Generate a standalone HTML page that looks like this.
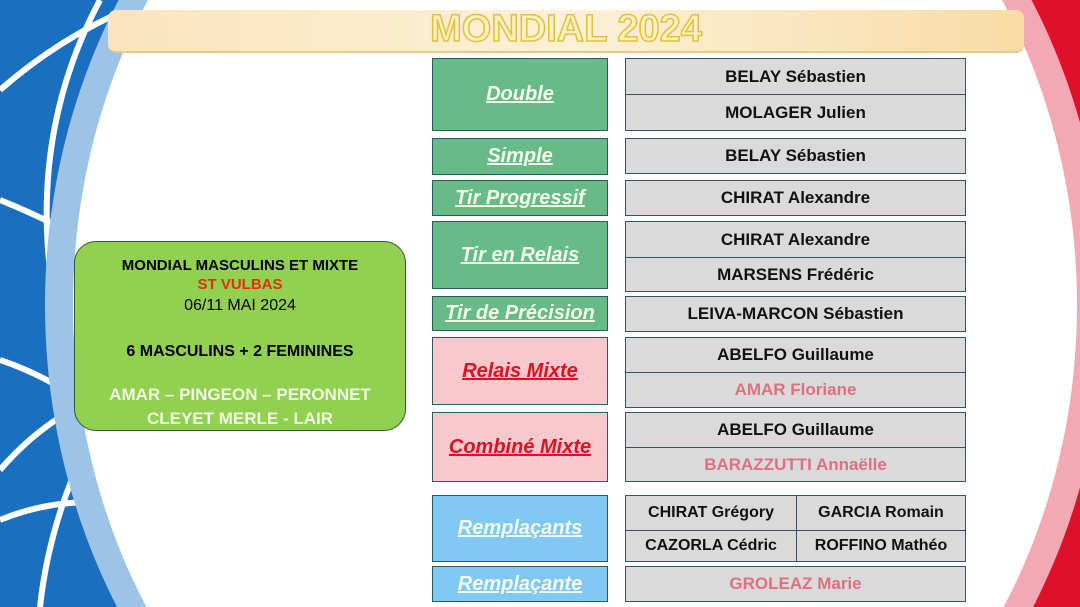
<!DOCTYPE html>
<html style="overflow:hidden"><head><meta charset="utf-8"><style>
*{margin:0;padding:0;box-sizing:border-box}
html,body{width:1080px;height:607px;overflow:hidden}
body{position:relative;background:#fff;font-family:"Liberation Sans",sans-serif}
.a{position:absolute}
.c{position:absolute;display:flex;align-items:center;justify-content:center;border:1.5px solid #2d5a5a;font-weight:bold;font-style:italic;text-decoration:underline;font-size:20px;color:#f4fbe8}
.g{background:#66bb88}
.p{background:#f9c8cf;color:#e0101e}
.b{background:#7fc9f4}
.n{position:absolute;display:flex;align-items:center;justify-content:center;background:#dadada;border:1.5px solid #2f5566;font-weight:bold;font-size:17px;color:#111}
.f{color:#e07080}
</style></head><body>
<svg class="a" style="left:0;top:0;display:block" width="1080" height="607">
<clipPath id="r"><rect x="570" y="0" width="510" height="607"/></clipPath>
<rect x="0" y="0" width="570" height="607" fill="#1a6fc0"/>
<rect x="570" y="0" width="510" height="607" fill="#e0102a"/>
<g fill="none" stroke="#fff" stroke-width="6">
<path d="M0 90 Q80 20 180 -10"/>
<path d="M0 360 Q120 400 250 560"/>
<path d="M0 200 Q100 240 230 330"/>
<path d="M40 607 Q60 420 230 250"/>
<path d="M0 520 Q120 470 280 560"/>
<path d="M0 470 Q60 400 150 380"/>
<path d="M100 0 Q20 150 60 330"/>
</g>
<ellipse cx="575" cy="305" rx="530" ry="600" fill="#9cc4e6"/>
<ellipse cx="575" cy="305" rx="530" ry="600" fill="#f3a9b3" clip-path="url(#r)"/>
<ellipse cx="575" cy="305" rx="502" ry="580" fill="#fff"/>
</svg>
<div class="a" style="left:108px;top:10px;width:916px;height:43px;border-radius:8px;background:linear-gradient(90deg,#fbe4bd,#fdf0d8 50%,#f8dca6);border-bottom:2px solid #e8c98c"></div>
<div class="a" style="left:108px;top:8px;width:916px;text-align:center;font-size:38px;font-weight:bold;color:#fcefc0;-webkit-text-stroke:1.5px #e2c23a">MONDIAL 2024</div>

<div class="a" style="left:74px;top:241px;width:332px;height:190px;background:#92d050;border:1.5px solid #2f5a3a;border-radius:22px;text-align:center;font-weight:bold;font-size:15px;line-height:19px;padding-top:14px;overflow:hidden">
<div>MONDIAL MASCULINS ET MIXTE</div>
<div style="color:#e03010">ST VULBAS</div>
<div style="font-weight:normal;font-size:16px;margin-top:2px">06/11 MAI 2024</div>
<div style="margin-top:27px;font-size:16px">6 MASCULINS + 2 FEMININES</div>
<div style="margin-top:22px;color:#f2f7e8;font-size:17px;line-height:24px">AMAR – PINGEON – PERONNET<br>CLEYET MERLE - LAIR</div>
</div>

<div class="c g" style="left:432px;top:58px;width:176px;height:73px">Double</div>
<div class="c g" style="left:432px;top:138px;width:176px;height:37px">Simple</div>
<div class="c g" style="left:432px;top:180px;width:176px;height:36px">Tir Progressif</div>
<div class="c g" style="left:432px;top:221px;width:176px;height:68px">Tir en Relais</div>
<div class="c g" style="left:432px;top:296px;width:176px;height:35px">Tir de Précision</div>
<div class="c p" style="left:432px;top:337px;width:176px;height:68px">Relais Mixte</div>
<div class="c p" style="left:432px;top:412px;width:176px;height:70px">Combiné Mixte</div>
<div class="c b" style="left:432px;top:495px;width:176px;height:67px">Remplaçants</div>
<div class="c b" style="left:432px;top:566px;width:176px;height:36px">Remplaçante</div>

<div class="n" style="left:625px;top:58px;width:341px;height:37px">BELAY Sébastien</div>
<div class="n" style="left:625px;top:94px;width:341px;height:37px">MOLAGER Julien</div>
<div class="n" style="left:625px;top:138px;width:341px;height:36px">BELAY Sébastien</div>
<div class="n" style="left:625px;top:180px;width:341px;height:36px">CHIRAT Alexandre</div>
<div class="n" style="left:625px;top:221px;width:341px;height:37px">CHIRAT Alexandre</div>
<div class="n" style="left:625px;top:257px;width:341px;height:35px">MARSENS Frédéric</div>
<div class="n" style="left:625px;top:296px;width:341px;height:36px">LEIVA-MARCON Sébastien</div>
<div class="n" style="left:625px;top:337px;width:341px;height:36px">ABELFO Guillaume</div>
<div class="n f" style="left:625px;top:372px;width:341px;height:36px">AMAR Floriane</div>
<div class="n" style="left:625px;top:412px;width:341px;height:36px">ABELFO Guillaume</div>
<div class="n f" style="left:625px;top:447px;width:341px;height:35px">BARAZZUTTI Annaëlle</div>
<div class="n" style="left:625px;top:495px;width:172px;height:36px;font-size:16px">CHIRAT Grégory</div>
<div class="n" style="left:796px;top:495px;width:170px;height:36px;font-size:16px">GARCIA Romain</div>
<div class="n" style="left:625px;top:530px;width:172px;height:32px;font-size:16px">CAZORLA Cédric</div>
<div class="n" style="left:796px;top:530px;width:170px;height:32px;font-size:16px">ROFFINO Mathéo</div>
<div class="n f" style="left:625px;top:566px;width:341px;height:36px">GROLEAZ Marie</div>
</body></html>
